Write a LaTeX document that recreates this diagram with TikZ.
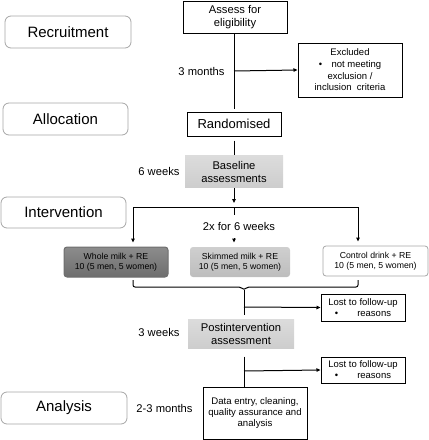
\documentclass[tikz,border=0pt]{standalone}
\usepackage{fontspec}
\setmainfont{Liberation Sans}
\usetikzlibrary{arrows.meta}

\definecolor{phaseline}{HTML}{A6A6A6}
\definecolor{lightshade}{HTML}{DCDCDC}
\definecolor{lightshadeb}{HTML}{CDCDCD}
\definecolor{midshade}{HTML}{CFCFCF}
\definecolor{midshadeb}{HTML}{BDBDBD}
\definecolor{darkshade}{HTML}{8C8C8C}
\definecolor{darkshadeb}{HTML}{6E6E6E}

\tikzset{
    phasebox/.style={draw=phaseline, line width=0.8pt, rounded corners=6pt, fill=white, inner sep=0pt,
        minimum width=126pt, minimum height=32pt, font=\fontsize{15}{18}\selectfont},
    flowbox/.style={draw, line width=1pt, fill=white, inner sep=0pt, align=center},
    shadebox/.style={inner sep=0pt, align=center, top color=lightshade, bottom color=lightshadeb,
        minimum width=98pt, minimum height=32pt, font=\fontsize{11.2}{13}\selectfont},
    groupbox/.style={rounded corners=3pt, inner sep=0pt, align=center, minimum height=30pt,
        font=\fontsize{8.7}{9.6}\selectfont},
    timing/.style={anchor=east, inner sep=0pt, font=\fontsize{11.2}{13}\selectfont},
}

\begin{document}
\begin{tikzpicture}[x=1pt, y=-1pt, line width=1pt, >={Triangle[length=4pt, width=3.5pt]}]
    \useasboundingbox (0,0) rectangle (429,440);

    % phases on the left
    \node[phasebox] at (68, 32) (recruit) {Recruitment};
    \node[phasebox, minimum width=125pt] at (65.5, 119) (alloc) {Allocation};
    \node[phasebox, minimum width=125pt, minimum height=31pt] at (63.5, 212.5) (interv) {Intervention};
    \node[phasebox] at (64, 408) (analysis) {Analysis};

    % main flow
    \node[flowbox, minimum width=104pt, minimum height=32pt, font=\fontsize{11.2}{13.5}\selectfont] at (235, 17) (assess) {Assess for\\eligibility};
    \node[flowbox, minimum width=104pt, minimum height=54pt, font=\fontsize{9.5}{11.6}\selectfont] at (350, 70) (excl) {Excluded\\\textbullet\quad not meeting\\exclusion /\\inclusion\ \ criteria};
    \node[flowbox, minimum width=94pt, minimum height=24pt, font=\fontsize{13}{15}\selectfont] at (234, 124) (rand) {Randomised};
    \node[shadebox] at (234, 171.5) (base) {Baseline\\assessments};

    \node[groupbox, draw=darkshadeb, top color=darkshade, bottom color=darkshadeb, minimum width=104pt] at (116, 262) (whole) {Whole milk + RE\\10 (5 men, 5 women)};
    \node[groupbox, top color=midshade, bottom color=midshadeb, minimum width=100pt] at (240, 262) (skim) {Skimmed milk + RE\\10 (5 men, 5 women)};
    \node[groupbox, draw=phaseline, line width=0.8pt, fill=white, minimum width=105pt] at (375.5, 261) (ctrl) {Control drink + RE\\10 (5 men, 5 women)};

    \node[flowbox, minimum width=84pt, minimum height=27pt, font=\fontsize{9.5}{11}\selectfont] at (363, 307.5) (lost1) {Lost to follow-up\\\textbullet\qquad reasons};
    \node[shadebox, minimum width=106pt, minimum height=29pt] at (241, 333.5) (post) {Postintervention\\assessment};
    \node[flowbox, minimum width=84pt, minimum height=26pt, font=\fontsize{9.5}{11}\selectfont] at (363, 370) (lost2) {Lost to follow-up\\\textbullet\qquad reasons};
    \node[flowbox, minimum width=104pt, minimum height=52pt, font=\fontsize{9.6}{10.8}\selectfont] at (255, 413) (data) {Data entry, cleaning,\\quality assurance and\\analysis};

    % durations
    \node[timing] at (225, 71) (t1) {3 months};
    \node[timing] at (180, 171) (t2) {6 weeks};
    \node[inner sep=0pt, font=\fontsize{11.2}{13}\selectfont] at (239, 226) (t3) {2x for 6 weeks};
    \node[timing] at (180, 332) (t4) {3 weeks};
    \node[timing] at (193, 408) (t5) {2-3 months};

    % connectors
    \coordinate (split1) at (234, 71);
    \coordinate (fork) at (234, 207);
    \coordinate (forkL) at (133, 207);
    \coordinate (forkR) at (358, 207);
    \coordinate (midA) at (234, 215);
    \coordinate (midB) at (234, 238);
    \coordinate (brL) at (133, 280);
    \coordinate (brR) at (358, 280);
    \coordinate (brA) at (241, 287);
    \coordinate (brB) at (247, 287);
    \coordinate (brTip) at (244, 290);
    \coordinate (split2) at (244, 307);
    \coordinate (split3) at (244, 371);

    \draw[shorten >=3pt] (assess.south -| rand) -- (rand);
    \draw[->] (split1) -- (excl.west);
    \draw[shorten <=4pt] (rand) -- (base);
    \draw[->, shorten >=4pt] (base) -- (fork);
    \draw (forkL) -- (forkR);
    \draw (fork) -- (midA);
    \draw[->, shorten >=4pt] (midB) -- (midB |- skim.north);
    \draw[->, shorten >=4pt] (forkL) -- (forkL |- whole.north);
    \draw[->, shorten >=4pt] (forkR) -- (forkR |- ctrl.north);
    \draw[rounded corners=2pt] (brL) |- (brA) -- (brTip) -- (brB) -| (brR);
    \draw[shorten >=4pt] (brTip) -- (brTip |- post.north);
    \draw[->] (split2) -- (lost1.west);
    \draw[shorten <=8pt] (brTip |- post.south) -- (brTip |- data.north);
    \draw[->] (split3) -- (lost2.west);
\end{tikzpicture}
\end{document}
